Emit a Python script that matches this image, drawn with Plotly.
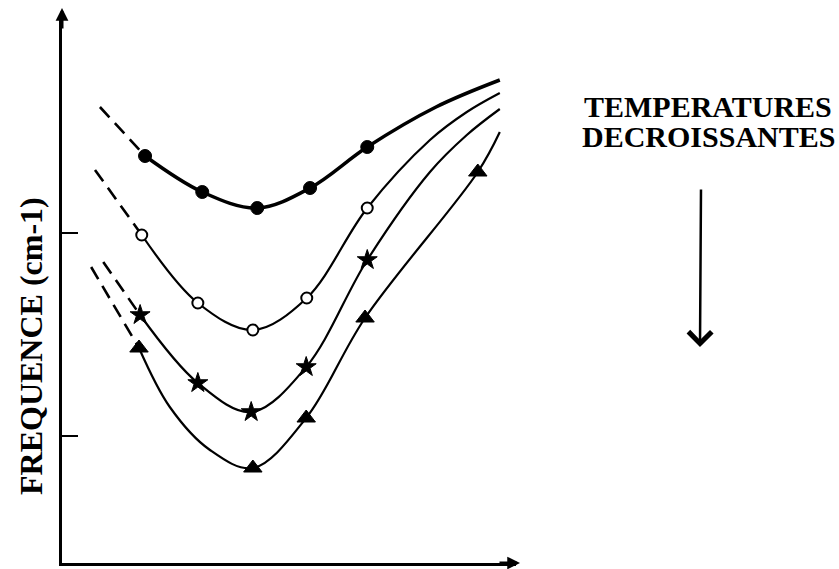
import plotly.graph_objects as go

# ---------------- data (arbitrary units) ----------------
# Series 1 : filled circles (highest temperature)
x_fc = [1.51, 2.55, 3.55, 4.51, 5.55]
y_fc = [8.14, 7.42, 7.10, 7.50, 8.32]
x_fc_curve = [1.51, 2.55, 3.55, 4.51, 5.55, 6.80, 7.96]
y_fc_curve = [8.14, 7.42, 7.10, 7.50, 8.32, 9.12, 9.66]
x_fc_dash = [0.69, 1.51]
y_fc_dash = [9.12, 8.14]

# Series 2 : open circles
x_oc = [1.45, 2.47, 3.47, 4.45, 5.55]
y_oc = [6.56, 5.20, 4.66, 5.30, 7.10]
x_oc_curve = [1.45, 2.47, 3.47, 4.45, 5.55, 6.69, 7.36, 7.96]
y_oc_curve = [6.56, 5.20, 4.66, 5.30, 7.10, 8.46, 9.02, 9.40]
x_oc_dash = [0.60, 1.45]
y_oc_dash = [7.86, 6.56]

# Series 3 : stars
x_st = [1.42, 2.47, 3.44, 4.44, 5.55]
y_st = [4.96, 3.60, 3.02, 3.92, 6.06]
x_st_curve = [1.42, 2.47, 3.44, 4.44, 5.55, 6.69, 7.36, 7.96]
y_st_curve = [4.96, 3.60, 3.02, 3.92, 6.06, 7.82, 8.56, 9.08]
x_st_dash = [0.75, 1.42]
y_st_dash = [6.02, 4.96]

# Series 4 : filled triangles (lowest temperature)
x_tr = [1.40, 3.47, 4.44, 5.51, 7.56]
y_tr = [4.30, 1.90, 2.90, 4.90, 7.82]
x_tr_curve = [1.40, 1.96, 2.69, 3.47, 4.44, 5.51, 7.56, 7.96]
y_tr_curve = [4.30, 3.12, 2.26, 1.90, 2.90, 4.90, 7.82, 8.62]
x_tr_dash = [0.53, 1.40]
y_tr_dash = [5.92, 4.30]

y_ticks = [2.54, 6.60]

y_label = "FREQUENCE (cm-1)"
note_line1 = "TEMPERATURES"
note_line2 = "DECROISSANTES"

# ---------------- figure ----------------
W, H = 839, 569
L, R, T, B = 62, 839 - 516, 14, 6
pw, ph = W - L - R, H - T - B
X_MAX = pw / 55.0
Y_MAX = ph / 50.0

fig = go.Figure()

series = [
    (x_fc_dash, y_fc_dash, x_fc_curve, y_fc_curve, x_fc, y_fc,
     dict(symbol="circle", size=13, color="black", line=dict(color="black", width=1)), 3.5),
    (x_oc_dash, y_oc_dash, x_oc_curve, y_oc_curve, x_oc, y_oc,
     dict(symbol="circle", size=11, color="white", line=dict(color="black", width=2)), 2.2),
    (x_st_dash, y_st_dash, x_st_curve, y_st_curve, x_st, y_st,
     dict(symbol="star", size=15, color="black", line=dict(color="black", width=1)), 2.2),
    (x_tr_dash, y_tr_dash, x_tr_curve, y_tr_curve, x_tr, y_tr,
     dict(symbol="triangle-up", size=16, color="black", line=dict(color="black", width=1)), 2.2),
]

for xd, yd, xc, yc, xm, ym, mk, lw in series:
    fig.add_trace(go.Scatter(x=xd, y=yd, mode="lines",
                             line=dict(color="black", width=2.6, dash="14px,8px"),
                             hoverinfo="skip", showlegend=False))
    fig.add_trace(go.Scatter(x=xc, y=yc, mode="lines",
                             line=dict(color="black", width=lw, shape="spline", smoothing=1.0),
                             hoverinfo="skip", showlegend=False))
    fig.add_trace(go.Scatter(x=xm, y=ym, mode="markers", marker=mk, showlegend=False))

fig.update_xaxes(range=[0, X_MAX], showgrid=False, zeroline=False, showticklabels=False,
                 showline=True, linecolor="black", linewidth=3, ticks="")
fig.update_yaxes(range=[0, Y_MAX], showgrid=False, zeroline=False, showticklabels=False,
                 showline=True, linecolor="black", linewidth=3,
                 tickmode="array", tickvals=y_ticks, ticks="inside", ticklen=16,
                 tickwidth=2, tickcolor="black")

def px_x(px):
    return (px - L) / pw

def px_y(py):
    return (H - B - py) / ph

annotations = [
    # arrow head on the vertical axis
    dict(xref="paper", yref="paper", x=0, y=px_y(8), ax=0, ay=22, text="",
         showarrow=True, arrowhead=2, arrowsize=0.85, arrowwidth=3, arrowcolor="black"),
    # arrow head on the horizontal axis
    dict(xref="paper", yref="paper", x=px_x(520), y=0, ax=-22, ay=0, text="",
         showarrow=True, arrowhead=2, arrowsize=0.85, arrowwidth=3, arrowcolor="black"),
    # y label
    dict(xref="paper", yref="paper", x=px_x(31), y=px_y(346), text=y_label,
         textangle=-90, showarrow=False, xanchor="center", yanchor="middle",
         font=dict(family="Liberation Serif", size=32, color="black", weight="bold")),
    # note
    dict(xref="paper", yref="paper", x=px_x(708), y=px_y(107), text=note_line1,
         showarrow=False, xanchor="center", yanchor="middle",
         font=dict(family="Liberation Serif", size=30, color="black", weight="bold")),
    dict(xref="paper", yref="paper", x=px_x(708), y=px_y(136), text=note_line2,
         showarrow=False, xanchor="center", yanchor="middle",
         font=dict(family="Liberation Serif", size=30, color="black", weight="bold")),
    # downward arrow
    dict(xref="paper", yref="paper", x=px_x(700), y=px_y(347), ax=1, ay=-159, text="",
         showarrow=True, arrowhead=4, arrowsize=1.8, arrowwidth=2.5, arrowcolor="black"),
]

fig.update_layout(
    width=W, height=H,
    margin=dict(l=L, r=R, t=T, b=B),
    paper_bgcolor="white", plot_bgcolor="white",
    annotations=annotations,
    showlegend=False,
)

fig.write_html("out.html")
